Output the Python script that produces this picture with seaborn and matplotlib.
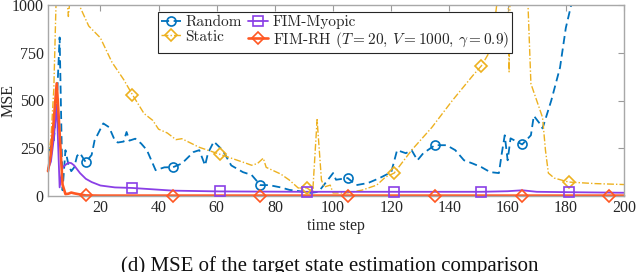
import numpy as np
import pandas as pd
import matplotlib
matplotlib.use("Agg")
import matplotlib.pyplot as plt
import seaborn as sns
from matplotlib.lines import Line2D

# ---------------- data ----------------
t_random = [2, 3, 4, 5, 6, 7, 8, 9, 10, 11, 12, 13, 14, 15, 17, 18, 21, 23, 25, 26, 28, 29, 30,
            32, 34, 36, 39, 42, 45, 48, 52, 54, 56, 57, 59, 62, 65, 69, 72, 75, 78, 82, 85, 89,
            92, 95, 99, 100, 101, 105, 108, 112, 116, 120, 122, 125, 127, 129, 131, 135, 139,
            142, 145, 148, 151, 154, 157, 158, 159, 160, 161, 165, 168, 169, 171, 172, 175, 178,
            180, 182, 185, 200]
mse_random = [230, 260, 290, 480, 830, 30, 240, 165, 130, 150, 210, 225, 200, 177, 215, 290, 380,
              360, 290, 280, 285, 335, 290, 300, 275, 240, 135, 150, 151, 170, 230, 240, 160, 225,
              285, 240, 160, 125, 110, 57, 57, 45, 32, 24, 16, 22, 100, 120, 85, 94, 57, 68, 94,
              125, 240, 224, 240, 187, 224, 266, 266, 240, 187, 170, 151, 125, 120, 224, 318, 187,
              302, 270, 318, 420, 380, 354, 500, 672, 880, 1010, 1200, 1500]

t_static = [2, 3, 4, 5, 8, 9, 10, 12, 13, 16, 20, 24, 28, 31, 35, 38, 40, 43, 46, 48, 54, 61,
            65, 70, 72, 74, 76, 77, 82, 85, 88, 91, 93, 94.5, 96, 97, 99, 100, 105, 110, 115,
            118, 121, 127, 134, 141, 148, 151, 154, 156, 157, 160, 160.5, 161, 166, 167, 168,
            172, 173, 174, 176, 181, 190, 200]
mse_static = [200, 300, 560, 1150, 1150, 940, 1100, 1080, 990, 890, 828, 700, 610, 531, 432, 396,
              350, 330, 295, 300, 255, 219, 198, 172, 161, 170, 198, 150, 115, 83, 42, 42, 21,
              400, 83, 47, 57, 16, 16, 31, 57, 99, 120, 240, 360, 500, 630, 682, 760, 969,
              1100, 1300, 650, 1300, 1100, 1000, 588, 411, 240, 120, 94, 73, 65, 60]

t_myopic = [2, 3, 4, 5, 6, 7, 9, 10, 11, 13, 15, 17, 20, 25, 31, 37, 45, 61, 91, 121, 151, 160,
            165, 170, 181, 200]
mse_myopic = [140, 180, 300, 480, 45, 150, 175, 172, 160, 120, 90, 73, 55, 45, 42, 36, 28, 24,
              22, 22, 22, 25, 30, 22, 20, 17]

t_rh = [2, 3, 4, 5, 6, 7, 8, 9, 10, 11, 13, 15, 20, 45, 75, 105, 135, 165, 195, 200]
mse_rh = [130, 220, 400, 590, 330, 60, 10, 12, 18, 14, 8, 3, 2, 2, 2, 2, 2, 2, 2, 2]

mk_random = [15, 45, 75, 105, 135, 165]
mk_static = [31, 61, 91, 121, 151, 181]
mk_myopic = [31, 61, 91, 121, 151, 181]
mk_rh = [15, 45, 75, 105, 135, 165, 195]

x_ticks = [20, 40, 60, 80, 100, 120, 140, 160, 180, 200]
y_ticks = [0, 250, 500, 750, 1000]

labels = ["Random", "Static", "FIM-Myopic",
          r"FIM-RH ($T=20$, $V=1000$, $\gamma=0.9$)"]
colors = ["#0072BD", "#EDB120", "#8A3FE6", "#FF5722"]
caption = "(d) MSE of the target state estimation comparison"

# ---------------- style ----------------
sns.set_style("white")
plt.rcParams["font.family"] = ["Liberation Serif", "DejaVu Serif"]
plt.rcParams["mathtext.fontset"] = "cm"

fig = plt.figure(figsize=(6.38, 2.72), dpi=100)
ax = fig.add_axes([48 / 638, 1 - 196 / 272, 576 / 638, 191 / 272])

series = [
    (t_random, mse_random, mk_random, colors[0], (0, (4.5, 2.5)), 1.3, "o", True),
    (t_static, mse_static, mk_static, colors[1], (0, (5, 1.5, 1, 1.5)), 1.0, "D", True),
    (t_myopic, mse_myopic, mk_myopic, colors[2], "-", 1.3, "s", False),
    (t_rh, mse_rh, mk_rh, colors[3], "-", 1.9, "D", False),
]

handles = []
for (tt, yy, mk, c, ls, lw, m, clip), lab in zip(series, labels):
    df = pd.DataFrame({"t": tt, "mse": yy})
    sns.lineplot(data=df, x="t", y="mse", ax=ax, color=c, linewidth=lw,
                 linestyle=ls, estimator=None, sort=False, clip_on=clip)
    sub = df[df["t"].isin(mk)]
    ms = 6.0 if m == "D" else 6.5
    ax.plot(sub["t"], sub["mse"], ls="none", marker=m, mfc="none", mec=c,
            ms=ms, mew=1.2, clip_on=False, zorder=5)
    handles.append(Line2D([], [], color=c, linestyle=ls, linewidth=lw, marker=m,
                          mfc="none", mec=c, ms=ms, mew=1.2, label=lab))

ax.set_xlim(2, 200)
ax.set_ylim(0, 1000)
ax.set_xticks(x_ticks)
ax.set_yticks(y_ticks)
ax.set_xlabel("time step", fontsize=11.5, labelpad=1, color="#262626")
ax.set_ylabel("MSE", fontsize=11.5, color="#262626")
ax.yaxis.set_label_coords(-31 / 576, 0.5)
ax.tick_params(direction="in", top=True, right=True, length=4, width=0.8,
               color="#9a9a9a", labelsize=11.5, labelcolor="#262626", pad=3)
for s in ax.spines.values():
    s.set_color("#a8a8a8")
    s.set_linewidth(1.0)

leg = ax.legend(handles=handles, ncol=2, loc="upper left",
                bbox_to_anchor=(110 / 576, 1 - 7 / 191), borderaxespad=0,
                fancybox=False, frameon=True, framealpha=1, edgecolor="#262626",
                prop={"family": "cmr10", "size": 11.0}, handlelength=1.3,
                handletextpad=0.3, columnspacing=0.4, borderpad=0.2,
                labelspacing=0.05)
leg.get_frame().set_linewidth(0.8)

fig.text(330 / 638, 1 - 271 / 272, caption, ha="center", va="baseline",
         fontsize=15, color="#111111")

fig.savefig("out.png", dpi=100)
